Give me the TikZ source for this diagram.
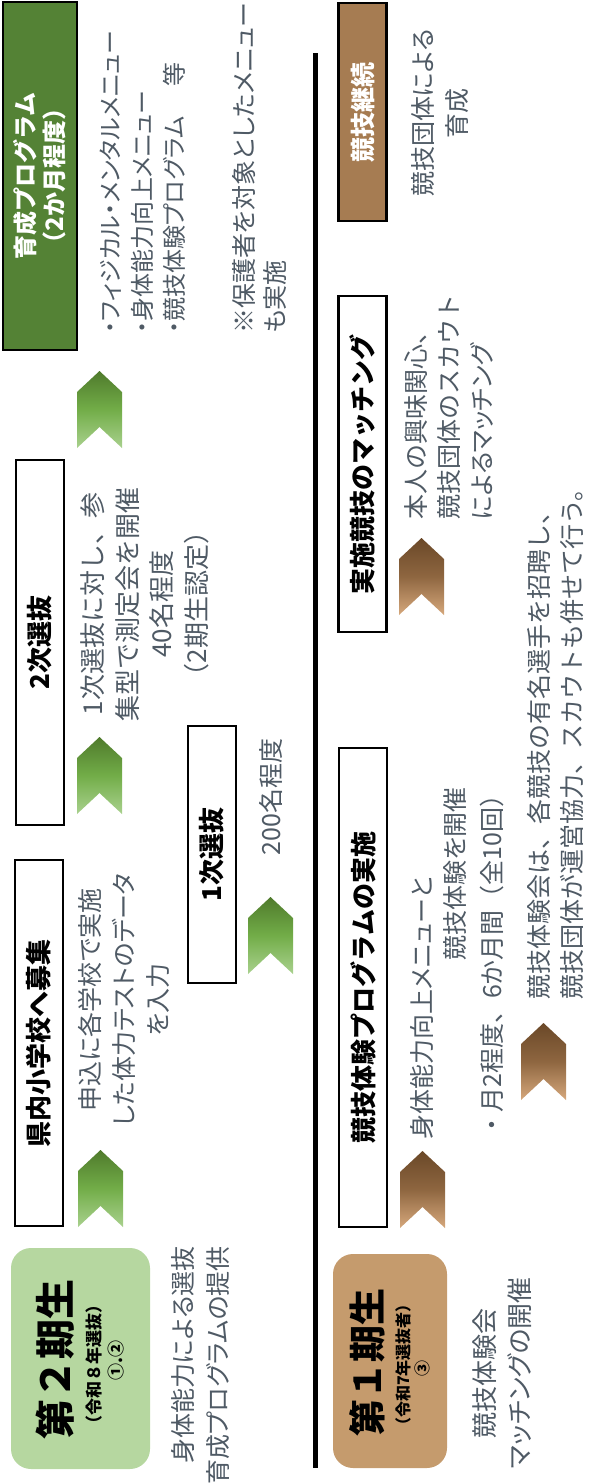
\documentclass[tikz,border=0pt]{standalone}
\usepackage{fontspec}
\newfontfamily\jp[RawFeature=+palt]{Noto Sans CJK JP}
\newfontfamily\jpf{Noto Sans CJK JP}
\definecolor{txtgrey}{HTML}{4F5A65}
\definecolor{darkgreen}{HTML}{548235}
\definecolor{lightgreen}{HTML}{B6D7A0}
\definecolor{tan}{HTML}{C59B6D}
\definecolor{brownbox}{HTML}{A67C52}
\definecolor{gtop}{HTML}{4F7A2C}
\definecolor{gmid}{HTML}{72AD48}
\definecolor{gbot}{HTML}{A9D18E}
\definecolor{btop}{HTML}{6A4828}
\definecolor{bmid}{HTML}{8E6640}
\definecolor{bbot}{HTML}{D6A87C}
\newcommand\chevshape[2]{(#1+22.5,#2) -- (#1+45,#2+21) -- (#1+45,#2+77) -- (#1+22.5,#2+56) -- (#1,#2+77) -- (#1,#2+21) -- cycle}
\begin{document}
\begin{tikzpicture}[x=1pt,y=-1pt,
  txt/.style={rotate=90, inner sep=0pt, text=txtgrey, align=center, font=\jp\fontsize{25}{34}\selectfont},
  ftxt/.style={txt, font=\jpf\fontsize{25}{33}\selectfont},
  hbox/.style={rotate=90, draw=black, line width=2.5pt, fill=white, minimum height=48pt, inner sep=0pt, font=\jpf\bfseries\fontsize{26}{30}\selectfont},
  rbox/.style={rotate=90, rounded corners=20pt, inner sep=0pt},
  big/.style={rotate=90, inner sep=0pt, font=\jpf\bfseries\fontsize{40}{40}\selectfont},
  small/.style={rotate=90, inner sep=0pt, font=\jpf\bfseries\fontsize{17}{17}\selectfont},
  gchev/.style={top color=gtop, bottom color=gbot, middle color=gmid},
  bchev/.style={top color=btop, bottom color=bbot, middle color=bmid},
  vline/.style={line width=5pt, black}]
\useasboundingbox (0,0) rectangle (605,1483);

% header boxes
\node[hbox, minimum width=348pt, minimum height=74pt, fill=darkgreen, text=white, align=center, font=\jpf\bfseries\fontsize{24}{29}\selectfont] (ikusei) at (40,176) {育成プログラム\\（2か月程度）};
\node[hbox, minimum width=366pt] (boshu) at (39,1043) {県内小学校へ募集};
\node[hbox, minimum width=365pt] (niji) at (40,642.5) {2次選抜};
\node[hbox, minimum width=257pt] (ichiji) at (212,854.5) {1次選抜};
\node[hbox, minimum width=479pt] (taiken) at (363,987.5) {競技体験プログラムの実施};
\node[hbox, minimum width=336pt] (matching) at (362.5,464) {実施競技のマッチング};
\node[hbox, minimum width=218pt, fill=brownbox, text=white, font=\jpf\bfseries\fontsize{25}{28}\selectfont] (keizoku) at (362.5,112) {競技継続};

% rounded boxes
\node[rbox, fill=lightgreen, minimum width=221pt, minimum height=139pt] (ki2) at (80.5,1358.5) {};
\node[big] (ki2a) at (55,1359) {第２期生};
\node[small] (ki2b) at (94,1364) {（令和８年選抜）};
\node[small] (ki2c) at (116,1360) {①.②};
\node[rbox, fill=tan, minimum width=214pt, minimum height=114pt] (ki1) at (390,1361) {};
\node[big, font=\jpf\bfseries\fontsize{37}{37}\selectfont] (ki1a) at (367,1362) {第１期生};
\node[small, font=\jpf\bfseries\fontsize{16}{16}\selectfont] (ki1b) at (403,1365) {（令和7年選抜者）};
\node[small, font=\jpf\bfseries\fontsize{16}{16}\selectfont] (ki1c) at (422,1368) {③};

% divider line
\coordinate (ltop) at (315,53);
\coordinate (lbot) at (315,1468);
\draw[vline] (ltop) -- (lbot);

% chevrons
\shade[gchev] \chevshape{77}{371};
\shade[gchev] \chevshape{77}{737};
\shade[gchev] \chevshape{248}{897};
\shade[gchev] \chevshape{78}{1150};
\shade[bchev] \chevshape{400}{1151};
\shade[bchev] \chevshape{521}{1023};
\shade[bchev] \chevshape{399}{538};

% texts
\node[txt, align=left, anchor=north west, font=\jp\fontsize{24}{32}\selectfont] (menu) at (100,334) {・フィジカル・メンタルメニュー\\・身体能力向上メニュー\\・競技体験プログラム　 等};
\node[txt, align=left, anchor=north west, font=\jp\fontsize{25}{31}\selectfont] (hogosha) at (232,334) {※保護者を対象としたメニュー\\も実施};
\node[txt] (shinkomi) at (124,1000) {申込に各学校で実施\\した体力テストのデータ\\を入力};
\node[ftxt, font=\jpf\fontsize{26}{34.5}\selectfont] (sokutei) at (145,604) {1次選抜に対し、参\\集型で測定会を開催\\40名程度\\（2期生認定）};
\node[txt] (nihyaku) at (271,797) {200名程度};
\node[txt, align=right, anchor=north east, font=\jp\fontsize{25}{35}\selectfont] (senbatsu) at (171,1246) {身体能力による選抜\\育成プログラムの提供};
\node[txt, anchor=north west] (taiken1) at (410,1140) {身体能力向上メニューと};
\node[txt, anchor=north east] (taiken2) at (443,787) {競技体験を開催};
\node[ftxt, anchor=north west] (taiken3) at (480,1138) {・月2程度、6か月間（全10回）};
\node[ftxt, align=left, anchor=north west] (shohei) at (527,1000) {競技体験会は、各競技の有名選手を招聘し、\\競技団体が運営協力、スカウトも併せて行う。};
\node[ftxt, align=left, anchor=north west] (kyomi) at (404,520) {本人の興味関心、\\競技団体のスカウト\\{\jp によるマッチング}};
\node[txt] (dantai) at (440,113) {競技団体による\\育成};
\node[txt, font=\jp\fontsize{26}{35}\selectfont] (kaisai) at (502,1373) {競技体験会\\マッチングの開催};
\end{tikzpicture}
\end{document}
